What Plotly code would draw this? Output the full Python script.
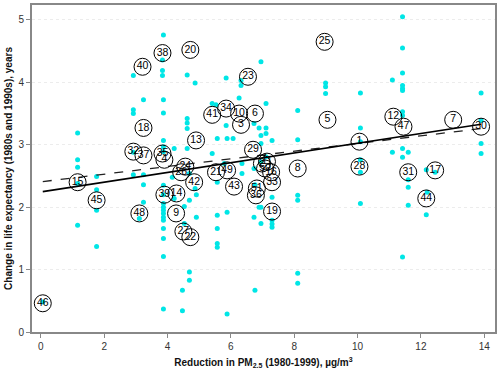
import plotly.graph_objects as go

# Cyan points (reduction in PM2.5, change in life expectancy)
pt_x = [3.87, 3.84, 3.84, 3.84, 2.92, 3.24, 3.87, 2.92, 2.92, 3.87,
        6.95, 4.62, 4.87, 5.85, 6.32, 6.32, 6.26, 7.11, 8.11, 8.99, 8.99, 8.99, 4.62, 4.62, 5.85, 6.73, 6.89, 7.11, 5.41, 5.53,
        11.42, 11.42, 11.42, 11.10, 11.42, 11.42, 11.42, 10.09, 13.90, 10.09, 11.42, 11.42, 13.90,
        10.09, 13.90, 13.90, 11.10, 11.42, 11.60, 11.42, 10.09, 10.09, 12.17, 12.45, 11.60, 11.60, 12.20, 10.09, 11.60, 12.17, 11.42,
        1.16, 1.16, 1.16, 1.16, 1.16, 1.76, 1.76, 1.76, 1.76, 2.92, 2.92, 3.24, 3.24, 3.24, 3.11,
        3.87, 3.87, 3.87, 3.87, 3.87, 3.87, 3.87, 3.87, 3.87, 3.87, 3.87, 3.87, 3.87, 3.87, 3.87, 0.06,
        5.57, 5.57, 4.69, 4.69, 4.47, 4.47, 5.88, 6.76, 8.11, 8.11,
        4.62, 7.11, 4.21, 4.62, 5.41, 5.57, 5.88, 6.07, 6.95, 6.95, 7.30, 8.11, 5.79, 6.35, 7.11, 6.95,
        6.73, 6.35, 5.57, 4.87, 4.91, 4.69, 4.53, 7.30, 6.76, 6.89, 6.73, 6.95, 8.11, 8.11, 7.30, 7.30,
        7.30, 6.95, 5.88, 5.57, 5.57, 4.53, 4.21, 4.91, 4.15, 4.69]
pt_y = [4.76, 4.36, 4.19, 4.11, 4.11, 3.72, 3.72, 3.56, 3.50, 3.51,
        4.33, 4.12, 3.99, 4.07, 4.03, 3.95, 3.75, 3.66, 3.55, 3.99, 3.93, 3.82, 3.42, 3.35, 3.31, 3.34, 3.27, 3.27, 3.66, 3.64,
        5.05, 4.55, 4.15, 4.04, 3.95, 3.90, 3.87, 3.83, 3.83, 3.27, 3.53, 3.47, 3.39,
        3.05, 3.02, 2.86, 2.88, 2.94, 2.88, 2.80, 2.76, 2.56, 2.60, 2.56, 2.44, 2.32, 2.24, 2.06, 2.03, 1.88, 1.20,
        3.19, 2.76, 2.64, 2.38, 1.71, 2.49, 2.28, 1.95, 1.37, 2.88, 2.52, 2.52, 2.36, 2.08, 1.82,
        3.07, 2.97, 2.89, 2.35, 2.20, 2.06, 2.00, 1.95, 1.90, 1.84, 1.79, 1.66, 1.50, 1.21, 0.37, 0.48,
        1.42, 1.36, 0.96, 0.83, 0.67, 0.34, 0.29, 0.67, 0.94, 0.78,
        3.26, 3.18, 2.94, 2.94, 2.86, 3.10, 3.10, 3.10, 3.15, 3.02, 3.07, 3.08, 2.70, 2.70, 2.81, 2.73,
        2.62, 2.54, 2.40, 2.30, 2.20, 2.11, 2.01, 2.16, 2.36, 2.00, 1.84, 2.00, 2.19, 2.11, 1.79, 1.68,
        1.73, 1.74, 1.92, 1.87, 1.66, 1.74, 2.14, 1.84, 2.48, 2.54]

# Labelled metropolitan areas
lab_text = ["46", "15", "45", "48", "32", "37", "35", "4", "18", "40",
            "38", "20", "23", "25", "41", "34", "10", "6", "3", "5",
            "12", "47", "7", "30", "1", "28", "31", "17", "44", "8",
            "13", "29", "24", "26", "39", "36", "33", "2", "11", "50",
            "16", "14", "42", "21", "49", "43", "9", "27", "22", "51", "19"]
lab_x = [0.06, 1.16, 1.76, 3.11, 2.92, 3.24, 3.84, 3.90, 3.24, 3.21,
         3.84, 4.72, 6.54, 8.96, 5.41, 5.85, 6.26, 6.76, 6.32, 9.05,
         11.13, 11.45, 13.02, 13.90, 10.06, 10.06, 11.60, 12.45, 12.17, 8.11,
         4.90, 6.70, 4.56, 4.43, 3.90, 6.79, 7.30, 6.98, 7.14, 7.08,
         7.27, 4.28, 4.84, 5.53, 5.88, 6.10, 4.27, 4.50, 4.72, 6.82, 7.30]
lab_y = [0.46, 2.40, 2.11, 1.90, 2.89, 2.83, 2.86, 2.76, 3.27, 4.25,
         4.47, 4.52, 4.09, 4.65, 3.48, 3.58, 3.50, 3.50, 3.32, 3.40,
         3.45, 3.29, 3.40, 3.29, 3.05, 2.65, 2.56, 2.59, 2.14, 2.62,
         3.07, 2.92, 2.65, 2.56, 2.20, 2.19, 2.40, 2.70, 2.73, 2.62,
         2.56, 2.22, 2.40, 2.56, 2.59, 2.33, 1.90, 1.61, 1.52, 2.30, 1.93]

# Regression lines
reg_x = [0.06, 13.90]
solid_y = [2.25, 3.33]
dashed_y = [2.41, 3.26]

fig = go.Figure()
fig.add_trace(go.Scatter(x=pt_x, y=pt_y, mode="markers",
                         marker=dict(color="#00e6e6", size=5, line=dict(width=0)),
                         showlegend=False, hoverinfo="skip"))
fig.add_trace(go.Scatter(x=reg_x, y=dashed_y, mode="lines",
                         line=dict(color="#222", width=1.3, dash="dash"),
                         showlegend=False, hoverinfo="skip"))
fig.add_trace(go.Scatter(x=reg_x, y=solid_y, mode="lines",
                         line=dict(color="black", width=1.6),
                         showlegend=False, hoverinfo="skip"))
fig.add_trace(go.Scatter(x=lab_x, y=lab_y, mode="markers+text", text=lab_text,
                         textposition="middle center",
                         textfont=dict(family="Liberation Sans, Arial", size=10.5, color="black"),
                         marker=dict(symbol="circle-open", size=17, color="black",
                                     line=dict(width=1, color="black")),
                         showlegend=False, hoverinfo="skip"))

fig.update_layout(
    width=500, height=373,
    margin=dict(l=32, r=3, t=4, b=41),
    paper_bgcolor="white", plot_bgcolor="white",
    font=dict(family="Liberation Sans, Arial", size=10, color="#333"),
)
fig.update_xaxes(range=[-0.28, 14.34], tickvals=[0, 2, 4, 6, 8, 10, 12, 14],
                 showgrid=False, zeroline=False,
                 showline=True, linecolor="#888", linewidth=2, mirror=True,
                 ticks="outside", ticklen=4, tickcolor="#888",
                 title=dict(text="<b>Reduction in PM<sub>2.5</sub> (1980-1999), µg/m<sup>3</sup></b>",
                            font=dict(size=10, color="#111"), standoff=8))
fig.update_yaxes(range=[0, 5.24], tickvals=[0, 1, 2, 3, 4, 5],
                 showgrid=True, gridcolor="#ececec", griddash="dot", gridwidth=1,
                 zeroline=False,
                 showline=True, linecolor="#888", linewidth=2, mirror=True,
                 ticks="outside", ticklen=4, tickcolor="#888",
                 title=dict(text="<b>Change in life expectancy (1980s and 1990s), years</b>",
                            font=dict(size=10, color="#111"), standoff=4))

fig.write_html("out.html", config={"displayModeBar": False},
               post_script="document.body.style.margin='0';document.body.style.overflow='hidden';")
